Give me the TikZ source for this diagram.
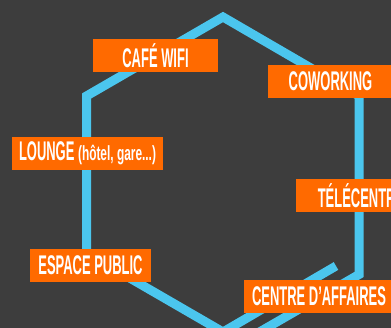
\documentclass[tikz,border=0pt]{standalone}
\usepackage{fontspec}
\newfontfamily\labelfont[FakeStretch=0.48]{Liberation Sans}
\newfontfamily\notefont[FakeStretch=0.58]{Liberation Sans}
\newcommand{\loungenote}{\notefont\bfseries\fontsize{20.5}{20.5}\selectfont}
\definecolor{bgdark}{HTML}{3D3D3D}
\definecolor{hexblue}{HTML}{4BC6EE}
\definecolor{boxorange}{HTML}{FF6A00}
\tikzset{
  x=1pt,y=-1pt,
  hexline/.style={draw=hexblue,line width=9pt,line join=miter,line cap=butt},
  tag/.style={fill=boxorange,text=white,minimum height=33pt,inner sep=0pt,anchor=center,
    font=\labelfont\bfseries\fontsize{27}{27}\selectfont}
}
\begin{document}
\begin{tikzpicture}
\useasboundingbox (0,0) rectangle (391,328);
\clip (0,0) rectangle (391,328);
\fill[bgdark] (0,0) rectangle (391,328);
\draw[hexline] (336,266) -- (223,332) -- (86.5,253) -- (86.5,96) -- (223,17) -- (359,96) -- (359,274.5) -- (250,337.5);
\node[tag,minimum width=125pt] (cafe) at (155.5,55.5) {CAFÉ WIFI};
\node[tag,minimum width=125pt] (cowork) at (330.5,81.5) {COWORKING};
\node[tag,minimum width=151pt] (lounge) at (87.5,153.5) {LOUNGE {\loungenote(hôtel, gare...)}};
\node[tag,minimum width=130pt] (tele) at (361,195.5) {TÉLÉCENTRE};
\node[tag,minimum width=121pt] (espace) at (90.5,265.5) {ESPACE PUBLIC};
\node[tag,minimum width=150pt] (affaires) at (319,296.5) {CENTRE D’AFFAIRES};
\end{tikzpicture}
\end{document}
